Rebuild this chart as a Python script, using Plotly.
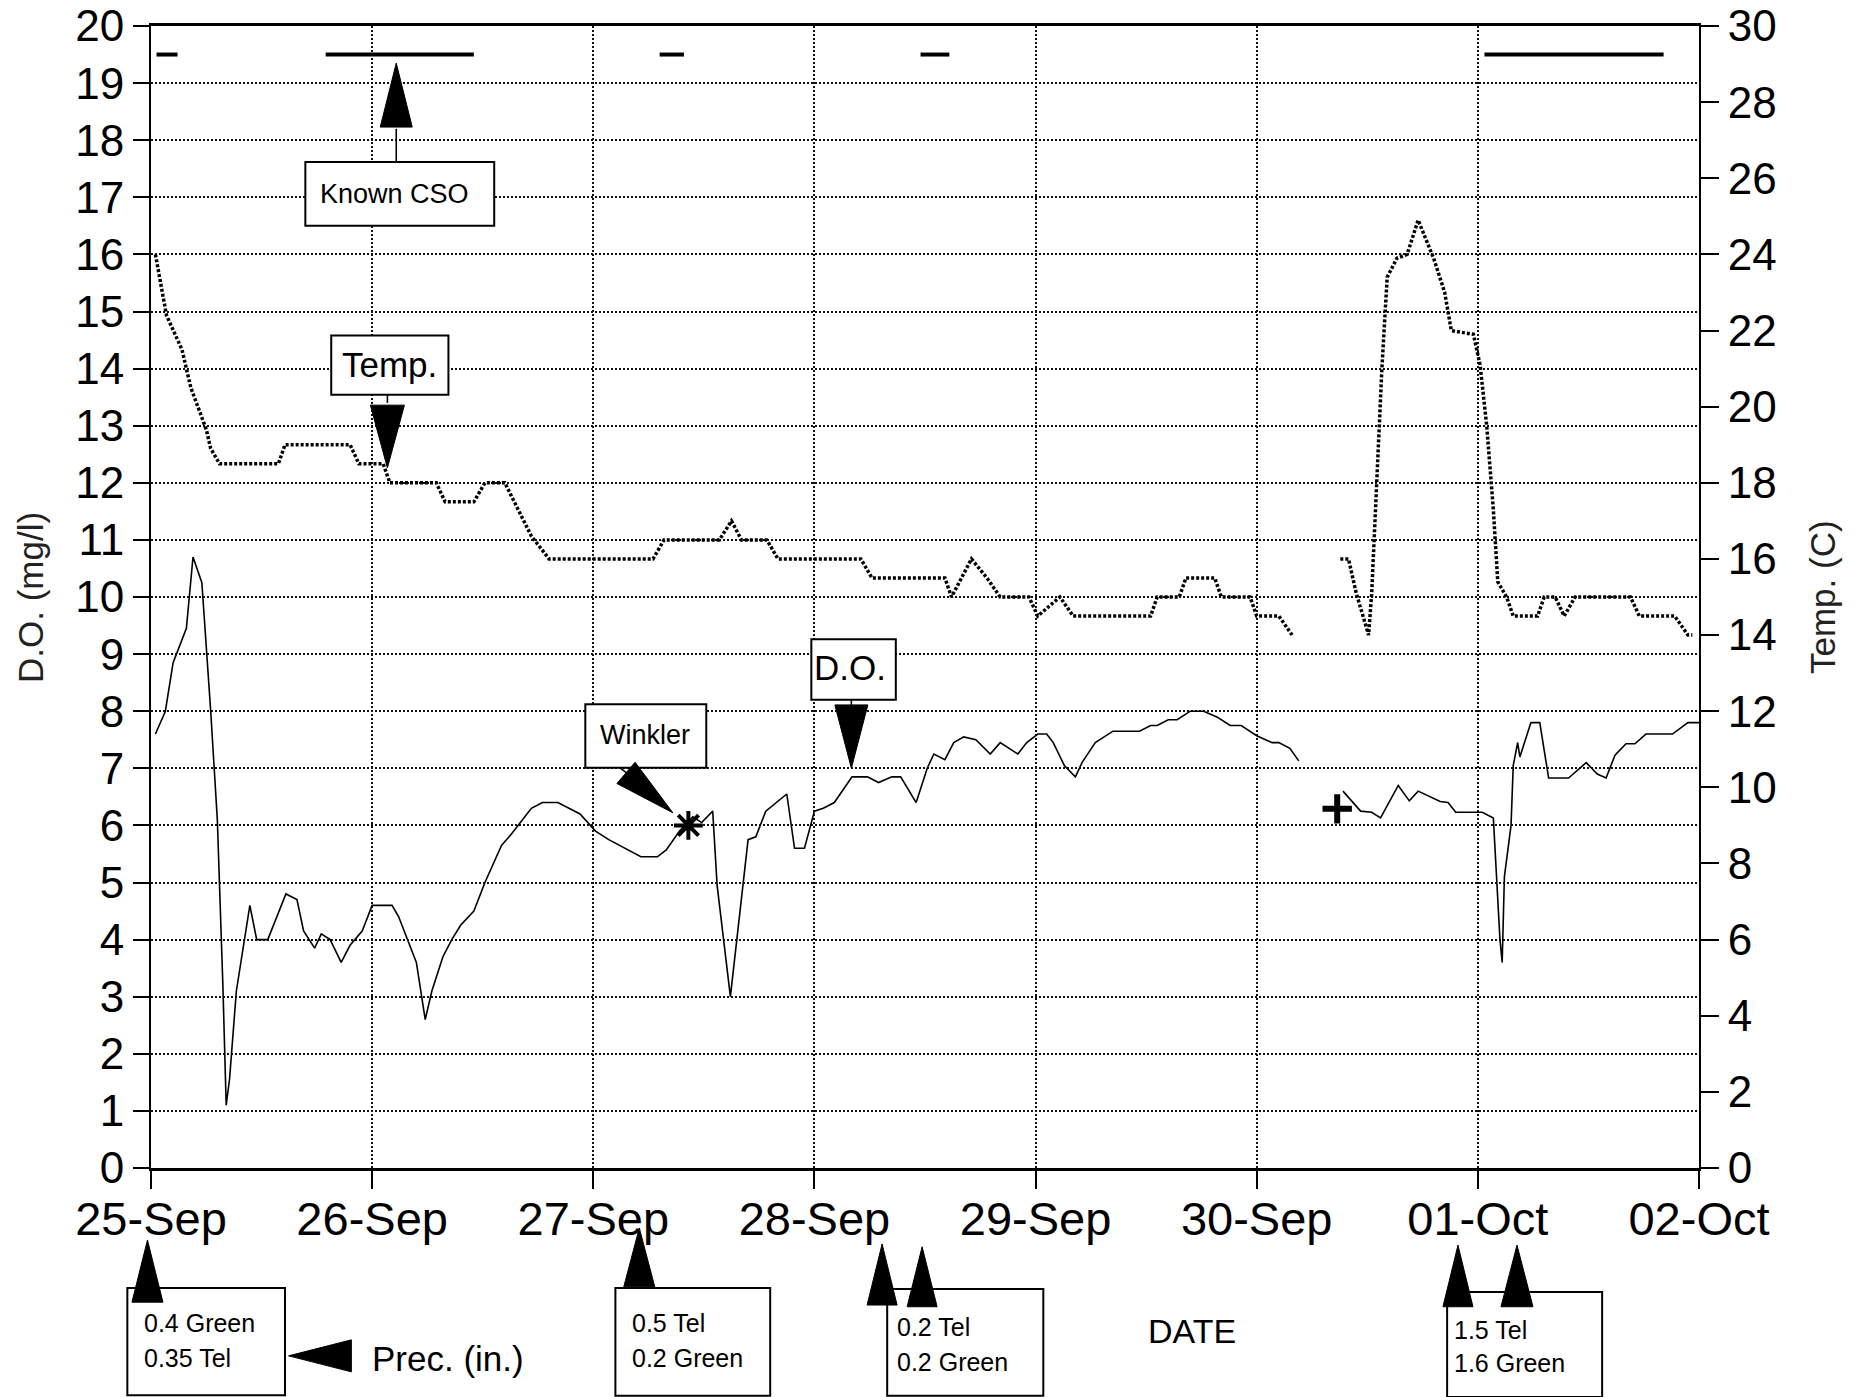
import math
import plotly.graph_objects as go

# ---------------- data ----------------
date_labels = ["25-Sep", "26-Sep", "27-Sep", "28-Sep", "29-Sep", "30-Sep", "01-Oct", "02-Oct"]
date_ticks = [0, 1, 2, 3, 4, 5, 6, 7]          # days after 25-Sep 00:00

# Dissolved oxygen (mg/l), time in days after 25-Sep; None = data gap
do_day = [0.02, 0.065, 0.10, 0.12, 0.16, 0.19, 0.23, 0.27, 0.30, 0.325, 0.34, 0.355, 0.386,
          0.447, 0.478, 0.528, 0.61, 0.66, 0.69, 0.74, 0.77, 0.81, 0.86, 0.90, 0.955, 1.00,
          1.09, 1.12, 1.16, 1.20, 1.24, 1.27, 1.32, 1.36, 1.40, 1.46, 1.51, 1.585, 1.63, 1.72,
          1.77, 1.84, 1.94, 2.01, 2.07, 2.215, 2.29, 2.33, 2.39, 2.45, 2.49, 2.54, 2.56, 2.62,
          2.70, 2.735, 2.78, 2.825, 2.875, 2.91, 2.955, 3.0, 3.04, 3.09, 3.17, 3.24, 3.29, 3.35,
          3.39, 3.46, 3.51, 3.54, 3.59, 3.63, 3.675, 3.73, 3.795, 3.84, 3.92, 3.96, 4.01, 4.05,
          4.08, 4.13, 4.18, 4.21, 4.27, 4.31, 4.35, 4.47, 4.52, 4.55, 4.60, 4.64, 4.70, 4.76,
          4.82, 4.88, 4.93, 5.0, 5.07, 5.10, 5.15, 5.19,
          None,
          5.39, 5.47, 5.52, 5.56, 5.64, 5.69, 5.73, 5.83, 5.865, 5.90, 6.02, 6.07, 6.10, 6.11,
          6.12, 6.15, 6.16, 6.18, 6.19, 6.24, 6.28, 6.32, 6.41, 6.49, 6.54, 6.58, 6.62, 6.67,
          6.71, 6.76, 6.88, 6.95, 7.0]
do_val = [7.6, 8.0, 8.85, 9.05, 9.45, 10.7, 10.25, 8.0, 6.1, 3.2, 1.1, 1.55, 3.1,
          4.6, 4.0, 4.0, 4.8, 4.7, 4.15, 3.85, 4.1, 4.0, 3.6, 3.9, 4.15, 4.6,
          4.6, 4.4, 4.0, 3.6, 2.6, 3.1, 3.7, 4.0, 4.25, 4.5, 5.0, 5.65, 5.85, 6.3,
          6.4, 6.4, 6.2, 5.9, 5.75, 5.45, 5.45, 5.57, 5.9, 6.15, 6.05, 6.25, 4.95, 3.0,
          5.75, 5.8, 6.25, 6.4, 6.55, 5.6, 5.6, 6.25, 6.3, 6.4, 6.85, 6.85, 6.75, 6.85,
          6.85, 6.4, 7.0, 7.25, 7.15, 7.45, 7.55, 7.5, 7.25, 7.45, 7.25, 7.45, 7.6, 7.6,
          7.45, 7.05, 6.85, 7.1, 7.45, 7.55, 7.65, 7.65, 7.75, 7.75, 7.85, 7.85, 8.0, 8.0,
          7.9, 7.75, 7.75, 7.57, 7.45, 7.45, 7.35, 7.13,
          None,
          6.6, 6.25, 6.23, 6.13, 6.7, 6.43, 6.6, 6.42, 6.4, 6.23, 6.23, 6.13, 4.0, 3.6,
          5.1, 6.0, 7.05, 7.45, 7.2, 7.8, 7.8, 6.83, 6.83, 7.1, 6.9, 6.83, 7.23, 7.43,
          7.43, 7.6, 7.6, 7.8, 7.8]

# Water temperature (C)
temp_day = [0.02, 0.07, 0.14, 0.18, 0.25, 0.27, 0.31, 0.576, 0.606, 0.90, 0.94, 1.05, 1.08,
            1.29, 1.33, 1.46, 1.51, 1.60, 1.72, 1.80, 2.27, 2.32, 2.57, 2.625, 2.67, 2.785,
            2.835, 3.21, 3.26, 3.59, 3.62, 3.71, 3.78, 3.84, 3.97, 4.01, 4.11, 4.17, 4.52,
            4.55, 4.65, 4.68, 4.81, 4.84, 4.97, 5.0, 5.10, 5.16,
            None,
            5.378, 5.415, 5.45, 5.506, 5.52, 5.54, 5.566, 5.59, 5.634, 5.68, 5.73, 5.80, 5.85,
            5.88, 5.98, 6.01, 6.04, 6.07, 6.09, 6.13, 6.16, 6.27, 6.30, 6.35, 6.39, 6.44, 6.69,
            6.73, 6.89, 6.95, 6.97]
temp_val = [24.0, 22.4, 21.5, 20.5, 19.4, 18.9, 18.5, 18.5, 19.0, 19.0, 18.5, 18.5, 18.0,
            18.0, 17.5, 17.5, 18.0, 18.0, 16.6, 16.0, 16.0, 16.5, 16.5, 17.0, 16.5, 16.5,
            16.0, 16.0, 15.5, 15.5, 15.0, 16.0, 15.5, 15.0, 15.0, 14.5, 15.0, 14.5, 14.5,
            15.0, 15.0, 15.5, 15.5, 15.0, 15.0, 14.5, 14.5, 14.0,
            None,
            16.0, 16.0, 15.1, 14.0, 15.1, 17.9, 21.0, 23.4, 23.9, 24.0, 24.9, 23.9, 23.0,
            22.0, 21.9, 21.1, 19.5, 17.3, 15.4, 15.0, 14.5, 14.5, 15.0, 15.0, 14.5, 15.0, 15.0,
            14.5, 14.5, 14.0, 14.0]

# Known CSO events (start / end, days) drawn as bars near the top
cso_start = [0.025, 0.79, 2.30, 3.48, 6.03]
cso_end = [0.12, 1.46, 2.41, 3.61, 6.84]
cso_level = 19.5

# Winkler titration checks
winkler_day = [2.43, 5.364]
winkler_do = [6.0, 6.29]

# Precipitation notes (in.)
prec_notes = [["0.4 Green", "0.35 Tel"], ["0.5 Tel", "0.2 Green"],
              ["0.2 Tel", "0.2 Green"], ["1.5 Tel", "1.6 Green"]]

# ---------------- geometry helpers ----------------
X_MAX, Y_MAX, Y2_MAX = 7.0, 20.0, 30.0
PLOT_L, PLOT_T = 151, 26      # plot-area corner on the page
PW, PH = 1548, 1142
FW, FH = 1860, 1397
ML, MT = PLOT_L, PLOT_T
MR = FW - ML - PW
MB = FH - MT - PH
FONT = "Liberation Sans, Arial, Helvetica, sans-serif"


def xp(day):
    return day / X_MAX


def yp(v):
    return v / Y_MAX


def tri(tip, base, width_px):
    tx, ty = xp(tip[0]) * PW, yp(tip[1]) * PH
    bx, by = xp(base[0]) * PW, yp(base[1]) * PH
    dx, dy = tx - bx, ty - by
    L = math.hypot(dx, dy)
    nx, ny = -dy / L, dx / L
    h = width_px / 2
    pts = [(tx, ty), (bx + nx * h, by + ny * h), (bx - nx * h, by - ny * h)]
    path = "M" + " L".join(f"{x / PW:.5f},{y / PH:.5f}" for x, y in pts) + " Z"
    return dict(type="path", xref="paper", yref="paper", path=path,
                fillcolor="black", line=dict(color="black", width=1), layer="above")


def box(x0, x1, y0, y1):
    return dict(type="rect", xref="paper", yref="paper", x0=xp(x0), x1=xp(x1),
                y0=yp(y0), y1=yp(y1), fillcolor="white",
                line=dict(color="black", width=2), layer="above")


def stem(x0, y0, x1, y1):
    return dict(type="line", xref="paper", yref="paper", x0=xp(x0), y0=yp(y0),
                x1=xp(x1), y1=yp(y1), line=dict(color="black", width=1.6), layer="above")


def label(x, y, text, size, xanchor="center", angle=0):
    return dict(x=xp(x), y=yp(y), xref="paper", yref="paper", text=text, showarrow=False,
                xanchor=xanchor, yanchor="middle", textangle=angle,
                font=dict(family=FONT, size=size, color="black"))


# ---------------- traces ----------------
cso_x, cso_y = [], []
for s, e in zip(cso_start, cso_end):
    cso_x += [s, e, None]
    cso_y += [cso_level, cso_level, None]

fig = go.Figure()
fig.add_trace(go.Scatter(x=do_day, y=do_val, mode="lines", name="D.O.",
                         line=dict(color="black", width=1.6)))
fig.add_trace(go.Scatter(x=temp_day, y=temp_val, mode="lines", name="Temp.", yaxis="y2",
                         line=dict(color="black", width=3.5, dash="3px,2px")))
fig.add_trace(go.Scatter(x=cso_x, y=cso_y, mode="lines", name="Known CSO",
                         line=dict(color="black", width=4)))
fig.add_trace(go.Scatter(x=winkler_day[:1], y=winkler_do[:1], mode="markers", name="Winkler",
                         marker=dict(symbol="asterisk-open", size=24, color="black",
                                     line=dict(color="black", width=4))))
fig.add_trace(go.Scatter(x=winkler_day[1:], y=winkler_do[1:], mode="markers", name="Winkler",
                         marker=dict(symbol="cross-thin-open", size=21, color="black",
                                     line=dict(color="black", width=6))))

# ---------------- callouts ----------------
shapes = []
ann = []

# Known CSO
shapes += [stem(1.109, 17.62, 1.109, 18.2), box(0.698, 1.552, 16.5, 17.62),
           tri((1.109, 19.35), (1.109, 18.23), 32)]
ann.append(label(1.10, 17.06, "Known CSO", 27))

# Temp.
shapes += [stem(1.069, 13.54, 1.069, 13.4), box(0.815, 1.345, 13.54, 14.58),
           tri((1.069, 12.26), (1.069, 13.36), 34)]
ann.append(label(1.08, 14.08, "Temp.", 35))

# Winkler
shapes += [box(1.964, 2.511, 7.01, 8.12), stem(2.12, 7.01, 2.15, 6.92),
           tri((2.36, 6.22), (2.148, 6.92), 28)]
ann.append(label(2.235, 7.58, "Winkler", 27))

# D.O.
shapes += [box(2.986, 3.368, 8.20, 9.26), stem(3.167, 8.2, 3.167, 8.1),
           tri((3.167, 7.0), (3.167, 8.11), 33)]
ann.append(label(3.16, 8.77, "D.O.", 35))

# Precipitation boxes below the axis
prec_boxes = [(-0.107, 0.606, -2.10, -3.98, -0.039, -2.71, -3.33),
              (2.10, 2.80, -2.10, -3.99, 2.167, -2.71, -3.33),
              (3.329, 4.035, -2.12, -3.99, 3.365, -2.78, -3.40),
              (5.861, 6.562, -2.17, -4.01, 5.883, -2.84, -3.41)]
for (x0, x1, y0, y1, tx, ty1, ty2), lines in zip(prec_boxes, prec_notes):
    shapes.append(box(x0, x1, y1, y0))
    ann.append(label(tx, ty1, lines[0], 25, xanchor="left"))
    ann.append(label(tx, ty2, lines[1], 25, xanchor="left"))

shapes += [tri((-0.016, -1.26), (-0.016, -2.35), 31),
           tri((2.208, -1.05), (2.208, -2.08), 31),
           tri((3.306, -1.33), (3.306, -2.40), 30),
           tri((3.487, -1.38), (3.487, -2.43), 30),
           tri((5.91, -1.35), (5.91, -2.43), 30),
           tri((6.177, -1.35), (6.177, -2.43), 32),
           tri((0.622, -3.29), (0.906, -3.29), 32)]
ann.append(label(0.99, -3.33, "Prec. (in.)", 35, xanchor="left"))
ann.append(label(4.708, -2.85, "DATE", 34))

# axis titles
ann.append(dict(x=(30 - PLOT_L) / PW, y=0.5, xref="paper", yref="paper", text="D.O. (mg/l)",
                showarrow=False, textangle=-90, xanchor="center", yanchor="middle",
                font=dict(family=FONT, size=35, color="#222")))
ann.append(dict(x=(1822 - PLOT_L) / PW, y=0.5, xref="paper", yref="paper", text="Temp. (C)",
                showarrow=False, textangle=-90, xanchor="center", yanchor="middle",
                font=dict(family=FONT, size=35, color="#222")))

grid = dict(showgrid=True, gridcolor="#111111", gridwidth=1.6, griddash="2px,2px")

fig.update_layout(
    template="none",
    width=FW, height=FH,
    margin=dict(l=ML, r=MR, t=MT, b=MB, pad=0, autoexpand=False),
    paper_bgcolor="white", plot_bgcolor="white",
    showlegend=False,
    font=dict(family=FONT, color="black"),
    xaxis=dict(range=[0, X_MAX], tickvals=date_ticks, ticktext=date_labels,
               tickfont=dict(size=47), ticks="outside", ticklen=18, tickwidth=1.5,
               tickcolor="black", showline=True, linecolor="black", linewidth=2.5,
               mirror=True, zeroline=False, automargin=False, ticklabelstandoff=-10,
               ticklabeloverflow="allow", **grid),
    yaxis=dict(range=[0, Y_MAX], tick0=0, dtick=1, tickfont=dict(size=44),
               ticks="outside", ticklen=16, tickwidth=1.5, tickcolor="black",
               showline=True, linecolor="black", linewidth=2, zeroline=False,
               automargin=False, ticklabeloverflow="allow", **grid),
    yaxis2=dict(range=[0, Y2_MAX], tick0=0, dtick=2, overlaying="y", side="right",
                tickfont=dict(size=44), ticks="outside", ticklen=18, tickwidth=1.5,
                tickcolor="black", showline=True, linecolor="black", linewidth=2,
                showgrid=False, zeroline=False, automargin=False,
                ticklabeloverflow="allow"),
    shapes=shapes,
    annotations=ann,
)

fig.write_html("out.html",
               config={"displayModeBar": False},
               post_script="document.body.style.margin='0';document.body.style.overflow='hidden';")
